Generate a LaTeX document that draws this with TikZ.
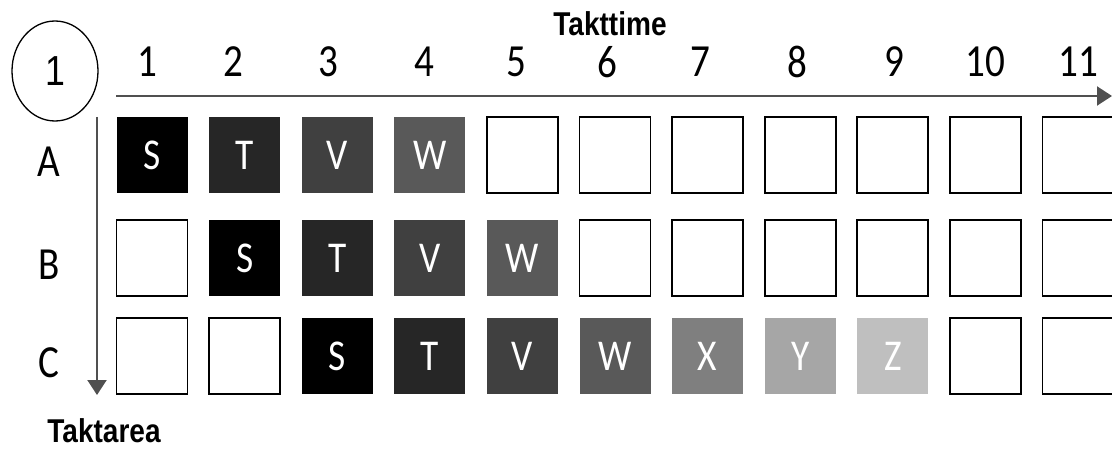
\documentclass[tikz,border=0pt]{standalone}
\usepackage{fontspec}
\usepackage{tikz}
\usetikzlibrary{positioning, arrows.meta, shapes.geometric}

\newfontfamily\cellfont[FakeStretch=0.85]{Carlito}
\newfontfamily\headfont[FakeStretch=0.85]{Liberation Sans}

\definecolor{shS}{HTML}{000000}
\definecolor{shT}{HTML}{262626}
\definecolor{shV}{HTML}{404040}
\definecolor{shW}{HTML}{595959}
\definecolor{shX}{HTML}{7F7F7F}
\definecolor{shY}{HTML}{A6A6A6}
\definecolor{shZ}{HTML}{BFBFBF}
\definecolor{axisgray}{HTML}{505050}

\tikzset{
    cell/.style={minimum width=71pt, minimum height=76pt, inner sep=0pt, font=\cellfont\fontsize{44}{48}\selectfont},
    emptycell/.style={cell, draw=black, line width=1.8pt},
    jobcell/.style={cell, fill=#1, text=white},
    axis/.style={-{Triangle[length=15pt, width=19pt]}, line width=2pt, color=axisgray},
    ticklabel/.style={font=\cellfont\fontsize{46}{50}\selectfont, inner sep=0pt},
    axislabel/.style={font=\headfont\bfseries\fontsize{33}{36}\selectfont, inner sep=0pt}
}

\begin{document}
\begin{tikzpicture}[x=1pt, y=-1pt]
    \useasboundingbox (0,0) rectangle (1112,449);

    % ==========================================
    % STEP MARKER
    % ==========================================
    \node[draw, ellipse, line width=1.3pt, minimum width=86pt, minimum height=100pt, inner sep=0pt,
          font=\headfont\fontsize{42}{46}\selectfont] (stepmark) at (55,71) {1};

    % ==========================================
    % AXES: Takttime (right), Taktarea (down)
    % ==========================================
    \coordinate (tstart) at (116,96);
    \coordinate (tend) at (1112,96);
    \coordinate (astart) at (97,117);
    \coordinate (aend) at (97,395);
    \draw[axis] (tstart) -- (tend);
    \draw[axis] (astart) -- (aend);

    \node[axislabel] (takttime) at (610,24) {Takttime};
    \node[axislabel] (taktarea) at (104,431) {Taktarea};

    % Time markers
    \foreach \n/\x in {1/147, 2/233, 3/328, 4/424, 5/516, 6/607, 7/700, 8/797, 9/894, 10/985, 11/1078}
        \node[ticklabel] (tick\n) at (\x,62) {\n};

    % ==========================================
    % TAKT GRID (o = empty cell)
    % ==========================================
    \foreach \row/\y/\cells in {A/155/{S,T,V,W,o,o,o,o,o,o,o},
                                B/258/{o,S,T,V,W,o,o,o,o,o,o},
                                C/356/{o,o,S,T,V,W,X,Y,Z,o,o}} {
        \node[ticklabel] (area\row) at (49,\y+7) {\row};
        \foreach \c [count=\i] in \cells {
            \pgfmathsetmacro\cx{152+(\i-1)*92.6}
            \if o\c
                \node[emptycell] (\row\i) at (\cx,\y) {};
            \else
                \node[jobcell=sh\c] (\row\i) at (\cx,\y) {\c};
            \fi
        }
    }

\end{tikzpicture}
\end{document}
